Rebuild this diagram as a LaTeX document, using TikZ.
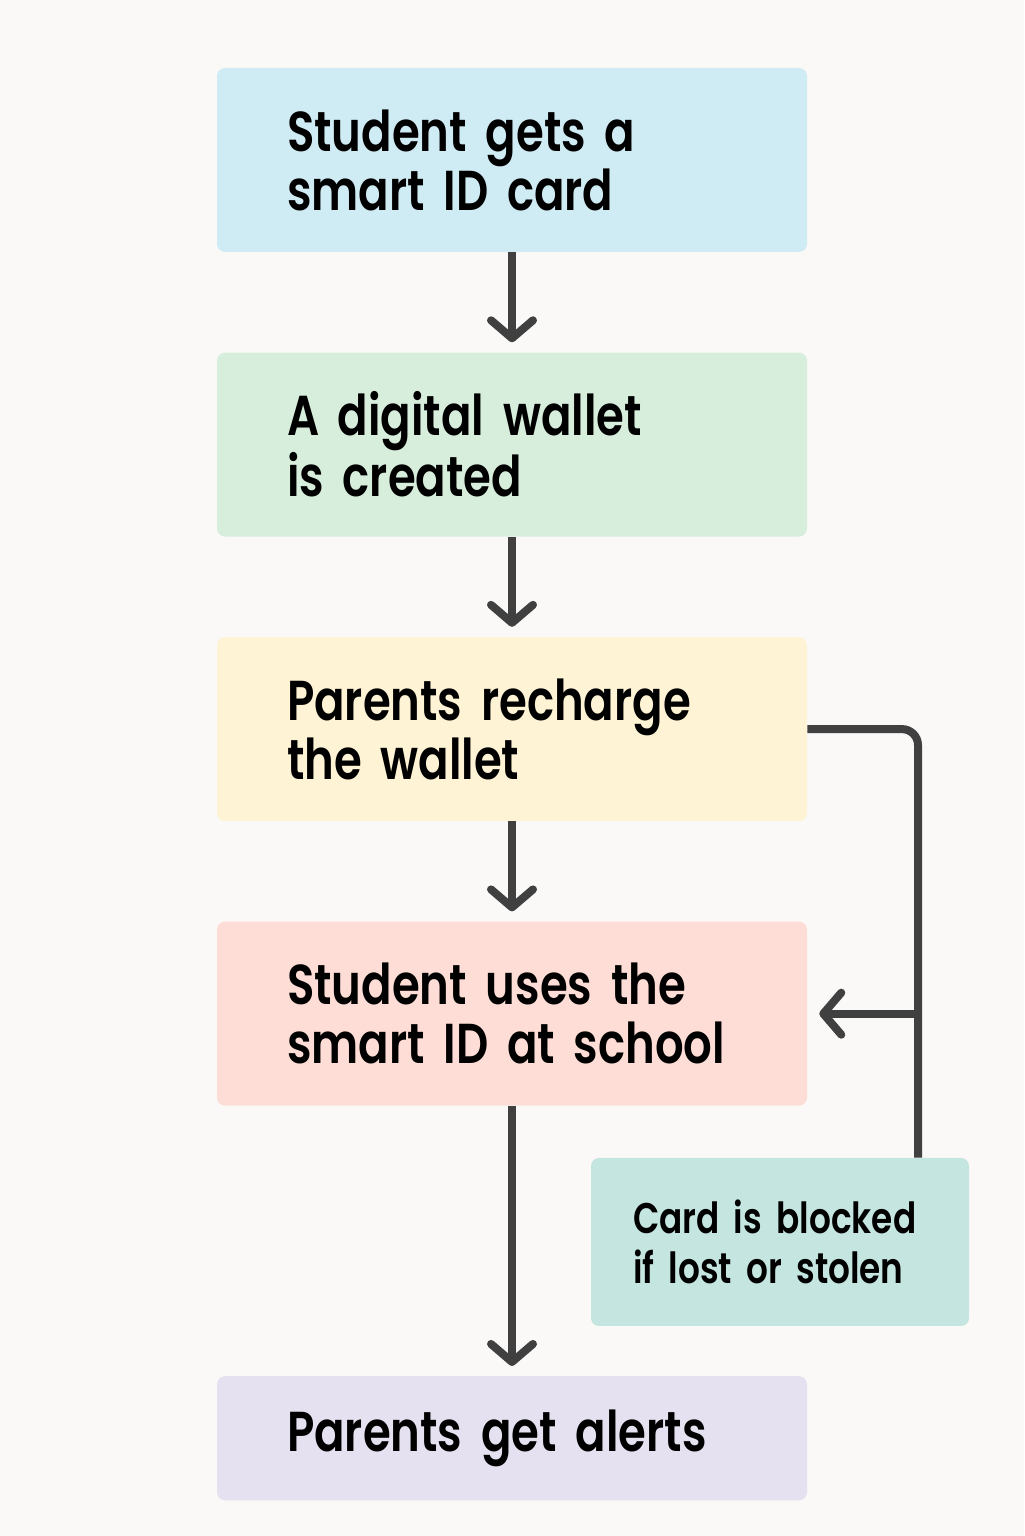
\documentclass[tikz,border=0pt]{standalone}
\usepackage{fontspec}
\setmainfont{Poppins}[UprightFont={* SemiBold},FakeStretch=0.8,WordSpace=0.75]
\usetikzlibrary{positioning,arrows.meta}

\definecolor{paper}{HTML}{FAF9F7}
\definecolor{ink}{HTML}{404040}
\definecolor{cardblue}{HTML}{CFEBF3}
\definecolor{walletgreen}{HTML}{D8EEDD}
\definecolor{rechargeyellow}{HTML}{FEF3D4}
\definecolor{usepink}{HTML}{FDDDD5}
\definecolor{alertlilac}{HTML}{E6E1F0}
\definecolor{blockteal}{HTML}{C4E5E0}

\begin{document}
\begin{tikzpicture}[auto,
	stepbox/.style={rectangle,rounded corners=0.2cm,minimum width=14.75cm,minimum height=4.6cm,
		text width=11.25cm,inner xsep=1.75cm,align=left,font=\fontsize{40}{42}\selectfont},
	flow/.style={draw=ink,line width=0.2cm,
		-{Straight Barb[length=0.45cm,width=1.05cm,line cap=round,line join=round]}}]

	\fill[paper] (0,0) rectangle (25.6,38.4);

	\node[stepbox,fill=cardblue] (idcard) at (12.8,34.4) {Student gets a\\smart ID card};
	\node[stepbox,fill=walletgreen,below=2.5cm of idcard] (wallet) {A digital wallet\\is created};
	\node[stepbox,fill=rechargeyellow,below=2.5cm of wallet] (recharge) {Parents recharge\\the wallet};
	\node[stepbox,fill=usepink,below=2.5cm of recharge] (useid) {Student uses the\\smart ID at school};
	\node[stepbox,fill=alertlilac,minimum height=3.1cm,below=6.75cm of useid] (alerts) {Parents get alerts};

	\node[rectangle,rounded corners=0.2cm,fill=blockteal,minimum width=9.45cm,minimum height=4.2cm,
		text width=7.35cm,inner xsep=1.05cm,align=left,font=\fontsize{30.5}{35.5}\selectfont]
		(blocked) at (19.5,7.35) {Card is blocked\\if lost or stolen};

	\draw[flow,shorten >=0.25cm] (idcard) -- (wallet);
	\draw[flow,shorten >=0.25cm] (wallet) -- (recharge);
	\draw[flow,shorten >=0.25cm] (recharge) -- (useid);
	\draw[flow,shorten >=0.25cm] (useid) -- (alerts);

	\coordinate (bend) at (22.95,0 |- recharge.east);
	\coordinate (join) at (bend |- useid.east);
	\draw[draw=ink,line width=0.2cm,rounded corners=0.4cm] (recharge.east) -- (bend) -- (bend |- blocked.north);
	\draw[flow,shorten >=0.3cm] (join) -- (useid.east);

\end{tikzpicture}
\end{document}
